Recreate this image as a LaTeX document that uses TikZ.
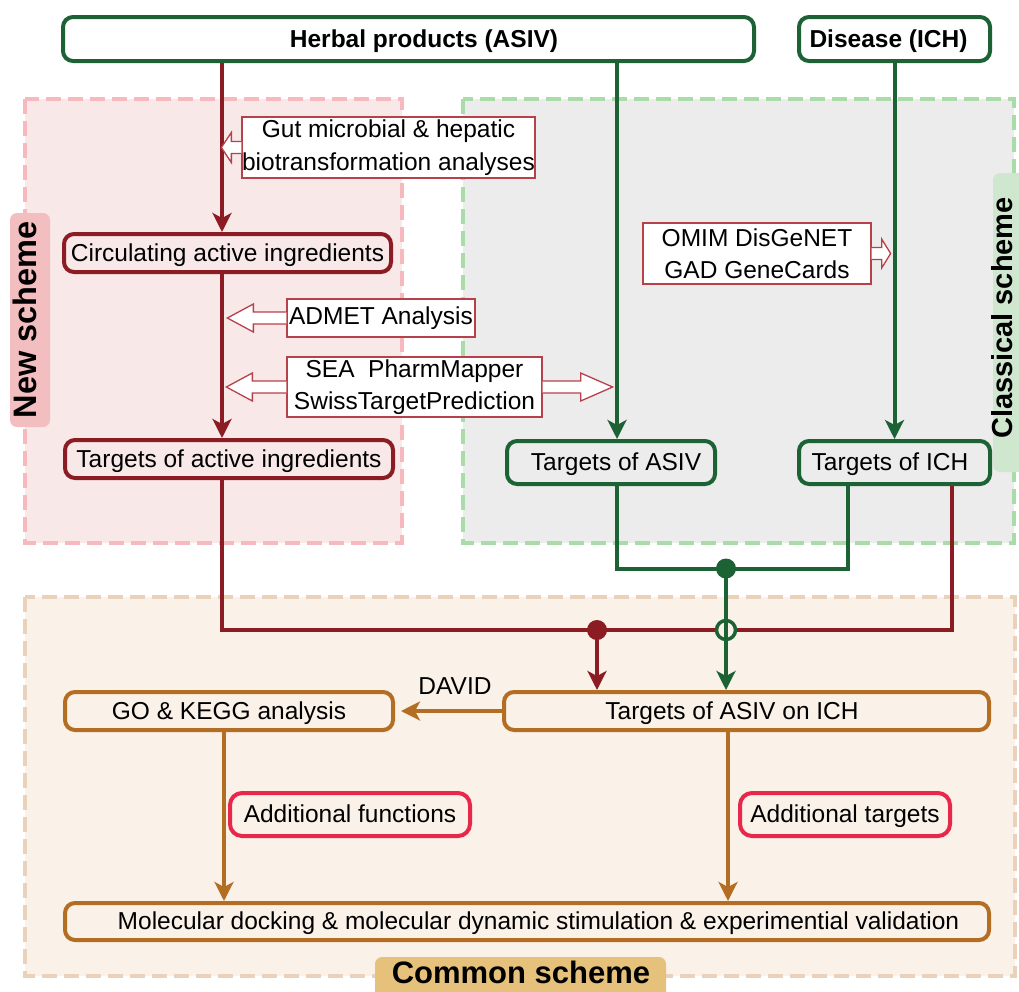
\documentclass[tikz,border=0pt]{standalone}
\usepackage{fontspec}
\setmainfont{Liberation Sans}
\usetikzlibrary{arrows.meta,calc}
\definecolor{dgreen}{RGB}{29,98,52}
\definecolor{dred}{RGB}{139,28,36}
\definecolor{orng}{RGB}{180,110,36}
\definecolor{crim}{RGB}{232,40,74}
\definecolor{thinred}{RGB}{183,65,74}
\definecolor{pinkbg}{RGB}{248,232,232}
\definecolor{pinkdash}{RGB}{247,185,190}
\definecolor{greybg}{RGB}{236,236,236}
\definecolor{greendash}{RGB}{170,220,170}
\definecolor{beigebg}{RGB}{250,241,232}
\definecolor{beigedash}{RGB}{234,210,186}
\definecolor{pinktab}{RGB}{243,190,191}
\definecolor{greentab}{RGB}{207,230,207}
\definecolor{goldtab}{RGB}{229,193,124}
\newcommand{\txtfont}{\fontsize{24.5}{29}\selectfont}
\newcommand{\hleft}[4]{%
  \draw[hollow] ($(#1)+(0,-6)$) -- ++({-(#2-#3)},0) -- ++(0,{-(#4-6)}) -- ++(-#3,#4) -- ++(#3,#4) -- ++(0,{-(#4-6)}) -- ($(#1)+(0,6)$);}
\newcommand{\hright}[4]{%
  \draw[hollow] ($(#1)+(0,-6)$) -- ++({#2-#3},0) -- ++(0,{-(#4-6)}) -- ++(#3,#4) -- ++(-#3,#4) -- ++(0,{-(#4-6)}) -- ($(#1)+(0,6)$);}
\tikzset{
  mbox/.style={draw, rounded corners=10, line width=4, inner sep=0, font=\txtfont, text height=17pt, text depth=1pt},
  gbox/.style={mbox, draw=dgreen},
  rbox/.style={mbox, draw=dred},
  obox/.style={mbox, draw=orng},
  cbox/.style={mbox, draw=crim, rounded corners=12},
  lbl/.style={font=\txtfont, inner sep=0, text height=17pt, text depth=1pt},
  tbox/.style={draw=thinred, line width=1.3, fill=white, inner sep=0, align=center, font=\fontsize{24.5}{32.5}\selectfont},
  hollow/.style={draw=thinred, line width=1.3, fill=white, line join=miter},
  conn/.style={line width=4, -{Stealth[length=19pt,width=19pt,inset=5pt]}},
  wire/.style={line width=4},
  region/.style={line width=4, dash pattern=on 15pt off 7pt},
  tabtext/.style={font=\fontsize{32.5}{36}\selectfont\bfseries, inner sep=0},
}
\begin{document}
\begin{tikzpicture}[x=1pt,y=-1pt]
\useasboundingbox (0,0) rectangle (1019,991);
% regions
\draw[region, draw=pinkdash, fill=pinkbg] (25,99) rectangle (402,543);
\draw[region, draw=greendash, fill=greybg] (463,99) rectangle (1014,543);
\draw[region, draw=beigedash, fill=beigebg] (25,597) rectangle (1015,976);
% tabs
\fill[pinktab, rounded corners=7] (10,213) rectangle (50,427);
\node[tabtext, rotate=90] (newlab) at (25,320) {New scheme};
\fill[greentab, rounded corners=7] (993,173) rectangle (1045,472);
\node[tabtext, font=\fontsize{29}{32}\selectfont\bfseries, rotate=90] (clslab) at (1002,318) {Classical scheme};
\fill[goldtab, rounded corners=7] (375,957) rectangle (666,1010);
\node[tabtext, font=\fontsize{31}{34}\selectfont\bfseries] (comlab) at (521,972.5) {Common scheme};
% main boxes
\node[gbox, fill=white, minimum width=691, minimum height=44,
  label={[lbl, font=\txtfont\bfseries, xshift=15.5]center:Herbal products (ASIV)}] (herbal) at (408.5,39) {};
\node[gbox, fill=white, minimum width=191, minimum height=44,
  label={[lbl, font=\txtfont\bfseries, xshift=-6]center:Disease (ICH)}] (disease) at (894.5,39) {};
\node[rbox, minimum width=327, minimum height=38] (circ) at (227.5,253) {Circulating active ingredients};
\node[rbox, minimum width=328, minimum height=38] (tai) at (229,459) {Targets of active ingredients};
\node[gbox, minimum width=208, minimum height=43,
  label={[lbl, xshift=5]center:Targets of ASIV}] (tasiv) at (611,462.5) {};
\node[gbox, minimum width=191, minimum height=43,
  label={[lbl, xshift=-4.5]center:Targets of ICH}] (tich) at (894.5,462.5) {};
\node[obox, minimum width=485, minimum height=38,
  label={[lbl, xshift=-14.5]center:Targets of ASIV on ICH}] (aoi) at (746.5,711) {};
\node[obox, minimum width=328, minimum height=38] (gok) at (229,711) {GO \& KEGG analysis};
\node[cbox, minimum width=240, minimum height=43] (addf) at (350,814.5) {Additional functions};
\node[cbox, minimum width=210, minimum height=43] (addt) at (845,814.5) {Additional targets};
\node[obox, minimum width=924, minimum height=37,
  label={[lbl, xshift=11.5]center:Molecular docking \& molecular dynamic stimulation \& experimential validation}] (mol) at (527,921.5) {};
% thin method boxes
\node[tbox, minimum width=293, minimum height=61] (gut) at (388.5,147.5) {Gut microbial \& hepatic\\biotransformation analyses};
\node[tbox, minimum width=188, minimum height=38] (admet) at (381,318) {ADMET Analysis};
\node[tbox, minimum width=255, minimum height=60] (sea) at (414.5,387) {SEA\ \ PharmMapper\\SwissTargetPrediction};
\node[tbox, minimum width=228, minimum height=61] (omim) at (757,253.5) {OMIM DisGeNET\\GAD GeneCards};
\node[lbl] (david) at (455,686) {DAVID};
% helper coordinates
\coordinate (rx) at (222,0);
\coordinate (rr) at (952,0);
\coordinate (gx1) at (617,0);
\coordinate (gx3) at (847.5,0);
\coordinate (gj) at (726,568.5);
\coordinate (rj) at (597,630);
\coordinate (cx) at (726,630);
\coordinate (ox1) at (224,0);
\coordinate (ox2) at (728,0);
% red connectors
\draw[conn, dred] (herbal.south -| rx) -- (circ.north -| rx);
\draw[conn, dred] (circ.south -| rx) -- (tai.north -| rx);
\draw[wire, dred] (tai.south -| rx) |- (rj) -- (rj -| rr) -- (tich.south -| rr);
\fill[dred] (rj) circle[radius=10pt];
\draw[conn, dred] (rj) -- (aoi.north -| rj);
% green connectors
\draw[conn, dgreen] (herbal.south -| gx1) -- (tasiv.north -| gx1);
\draw[conn, dgreen] (disease.south) -- (tich.north);
\draw[wire, dgreen] (tasiv.south -| gx1) |- (gj) -| (tich.south -| gx3);
\fill[dgreen] (gj) circle[radius=10pt];
\draw[dgreen, line width=3.5, fill=beigebg] (cx) circle[radius=9.5pt];
\draw[conn, dgreen] (gj) -- (aoi.north -| gj);
% orange connectors
\draw[conn, orng, shorten >=6pt] (aoi.west) -- (gok.east);
\draw[conn, orng] (gok.south -| ox1) -- (mol.north -| ox1);
\draw[conn, orng] (aoi.south -| ox2) -- (mol.north -| ox2);
% hollow arrows
\hleft{gut.west}{20}{10}{15}
\hleft{admet.west}{59}{26}{14}
\hleft{sea.west}{60}{26}{14}
\hright{sea.east}{70}{32}{14}
\hright{omim.east}{19}{9}{14.5}
\end{tikzpicture}
\end{document}
